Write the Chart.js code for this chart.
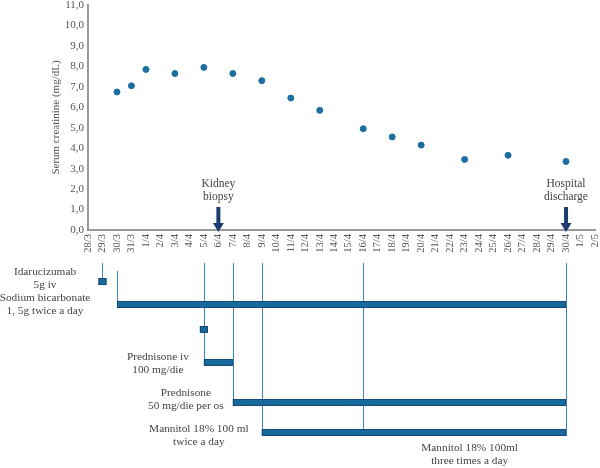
<!DOCTYPE html>
<html>
<head>
<meta charset="utf-8">
<script src="https://cdn.jsdelivr.net/npm/chart.js@4.4.1/dist/chart.umd.min.js"></script>
<style>
  body { margin: 0; background: #fff; }
</style>
</head>
<body>
<canvas id="myChart" width="600" height="468"></canvas>
<script>
// x axis: one tick per day
var dayLabels = ['28/3', '29/3', '30/3', '31/3', '1/4', '2/4', '3/4', '4/4', '5/4', '6/4', '7/4', '8/4',
    '9/4', '10/4', '11/4', '12/4', '13/4', '14/4', '15/4', '16/4', '17/4', '18/4', '19/4', '20/4',
    '21/4', '22/4', '23/4', '24/4', '25/4', '26/4', '27/4', '28/4', '29/4', '30/4', '1/5', '2/5'];

// serum creatinine (mg/dL)
var creatDays = ['30/3', '31/3', '1/4', '3/4', '5/4', '7/4', '9/4', '11/4', '13/4', '16/4', '18/4', '20/4', '23/4', '26/4', '30/4'];
var creatValues = [6.75, 7.05, 7.85, 7.65, 7.95, 7.65, 7.3, 6.45, 5.85, 4.95, 4.55, 4.15, 3.45, 3.65, 3.35];

// events with arrows
var eventDays = ['6/4', '30/4'];
var eventNames = [['Kidney', 'biopsy'], ['Hospital', 'discharge']];

// therapies (start == end -> single dose)
var therapyStart = ['29/3', '30/3', '5/4', '5/4', '7/4', '9/4'];
var therapyEnd = ['29/3', '30/4', '5/4', '7/4', '30/4', '30/4'];
var mannitolChange = '16/4';

function dayIdx(d) { return dayLabels.indexOf(d); }

var serif = "'Liberation Serif', 'DejaVu Serif', serif";
var barColor = '#17699b';
var lineColor = '#3a88bb';
var textColor = '#444';

// vertical layout of the timeline (pixels)
var lineTop = 263;
var rows = [
    { top: 278, h: 7, lineFrom: lineTop },   // idarucizumab
    { top: 301, h: 7, lineFrom: 271 },       // sodium bicarbonate
    { top: 326, h: 7, lineFrom: null },      // prednisone bolus
    { top: 359, h: 7, lineFrom: lineTop },   // prednisone iv
    { top: 399, h: 7, lineFrom: lineTop },   // prednisone os
    { top: 429, h: 7, lineFrom: lineTop }    // mannitol
];

var texts = [
    { lines: ['Idarucizumab', '5g iv'], x: 45, abs: true, y: 272 },
    { lines: ['Sodium bicarbonate', '1, 5g twice a day'], x: 45, abs: true, y: 298 },
    { lines: ['Prednisone iv', '100 mg/die'], row: 3, dx: -46, y: 357 },
    { lines: ['Prednisone', '50 mg/die per os'], row: 4, dx: -47, y: 393 },
    { lines: ['Mannitol 18% 100 ml', 'twice a day'], row: 5, dx: -63, y: 429 },
    { lines: ['Mannitol 18% 100ml', 'three times a day'], mid: true, y: 448 }
];

var timeline = {
    id: 'timeline',
    afterDraw: function (chart) {
        var ctx = chart.ctx;
        var x = chart.scales.x;
        var area = chart.chartArea;
        ctx.save();

        // arrows + event labels
        ctx.fillStyle = '#1f3c70';
        eventDays.forEach(function (d, i) {
            var px = x.getPixelForValue(dayIdx(d));
            ctx.fillRect(px - 2, area.bottom - 23, 4, 17);
            ctx.beginPath();
            ctx.moveTo(px - 5.5, area.bottom - 7);
            ctx.lineTo(px + 5.5, area.bottom - 7);
            ctx.lineTo(px, area.bottom + 2);
            ctx.closePath();
            ctx.fill();
        });
        ctx.fillStyle = textColor;
        ctx.font = '11.5px ' + serif;
        ctx.textAlign = 'center';
        ctx.textBaseline = 'middle';
        eventDays.forEach(function (d, i) {
            var px = x.getPixelForValue(dayIdx(d));
            ctx.fillText(eventNames[i][0], px, area.bottom - 46);
            ctx.fillText(eventNames[i][1], px, area.bottom - 33);
        });

        // connector lines
        ctx.strokeStyle = lineColor;
        ctx.lineWidth = 1;
        rows.forEach(function (r, i) {
            if (r.lineFrom === null) return;
            var px = Math.round(x.getPixelForValue(dayIdx(therapyStart[i]))) + 0.5;
            ctx.beginPath();
            ctx.moveTo(px, r.lineFrom);
            ctx.lineTo(px, r.top);
            ctx.stroke();
        });
        var endPx = Math.round(x.getPixelForValue(dayIdx(therapyEnd[1]))) + 0.5;
        var chPx = Math.round(x.getPixelForValue(dayIdx(mannitolChange))) + 0.5;
        ctx.beginPath();
        ctx.moveTo(endPx, lineTop);
        ctx.lineTo(endPx, rows[5].top + rows[5].h);
        ctx.moveTo(chPx, lineTop);
        ctx.lineTo(chPx, rows[5].top);
        ctx.stroke();

        // bars
        ctx.fillStyle = barColor;
        ctx.strokeStyle = '#154a78';
        rows.forEach(function (r, i) {
            var s = x.getPixelForValue(dayIdx(therapyStart[i]));
            var e = x.getPixelForValue(dayIdx(therapyEnd[i]));
            if (s === e) { s -= 4; e += 4; }
            ctx.fillRect(s, r.top, e - s, r.h);
            ctx.strokeRect(s + 0.5, r.top + 0.5, e - s - 1, r.h - 1);
        });

        // therapy labels
        ctx.fillStyle = textColor;
        ctx.font = '11.3px ' + serif;
        texts.forEach(function (t) {
            var cx;
            if (t.abs) cx = t.x;
            else if (t.mid) cx = (x.getPixelForValue(dayIdx(mannitolChange)) + x.getPixelForValue(dayIdx(therapyEnd[5]))) / 2 + 5;
            else cx = x.getPixelForValue(dayIdx(therapyStart[t.row])) + t.dx;
            ctx.fillText(t.lines[0], cx, t.y);
            ctx.fillText(t.lines[1], cx, t.y + 13.5);
        });
        ctx.restore();
    }
};

var points = creatDays.map(function (d, i) { return { x: dayIdx(d), y: creatValues[i] }; });

var c = new Chart(document.getElementById('myChart'), {
    type: 'scatter',
    data: {
        datasets: [{
            data: points,
            backgroundColor: '#1a6fa0',
            borderColor: '#1a6fa0',
            pointRadius: 3,
            pointHoverRadius: 3
        }]
    },
    options: {
        responsive: false,
        animation: false,
        layout: { padding: { top: 0, left: 50, right: 0, bottom: 210 } },
        plugins: { legend: { display: false }, tooltip: { enabled: false } },
        scales: {
            x: {
                type: 'linear',
                min: 0,
                max: dayLabels.length - 1,
                afterFit: function (s) { s.height = 28; s.paddingRight = 5; s.paddingLeft = 0; },
                afterBuildTicks: function (s) {
                    s.ticks = dayLabels.map(function (l, i) { return { value: i }; });
                },
                ticks: {
                    autoSkip: false,
                    maxRotation: 90,
                    minRotation: 90,
                    padding: 4,
                    color: '#555',
                    font: { family: serif, size: 10.5 },
                    callback: function (v) { return dayLabels[v]; }
                },
                grid: { display: false, drawTicks: false },
                border: { color: '#999', width: 2 }
            },
            y: {
                min: 0,
                max: 11,
                afterFit: function (s) { s.width = 38; s.paddingTop = 5; s.paddingBottom = 0; },
                ticks: {
                    stepSize: 1,
                    padding: 4,
                    color: '#555',
                    font: { family: serif, size: 11 },
                    callback: function (v) { return v.toFixed(1).replace('.', ','); }
                },
                title: {
                    display: true,
                    text: 'Serum creatinine (mg/dL)',
                    color: '#555',
                    font: { family: serif, size: 11 },
                    padding: 0
                },
                grid: { display: false, drawTicks: false },
                border: { color: '#999', width: 2 }
            }
        }
    },
    plugins: [timeline]
});
</script>
</body>
</html>
